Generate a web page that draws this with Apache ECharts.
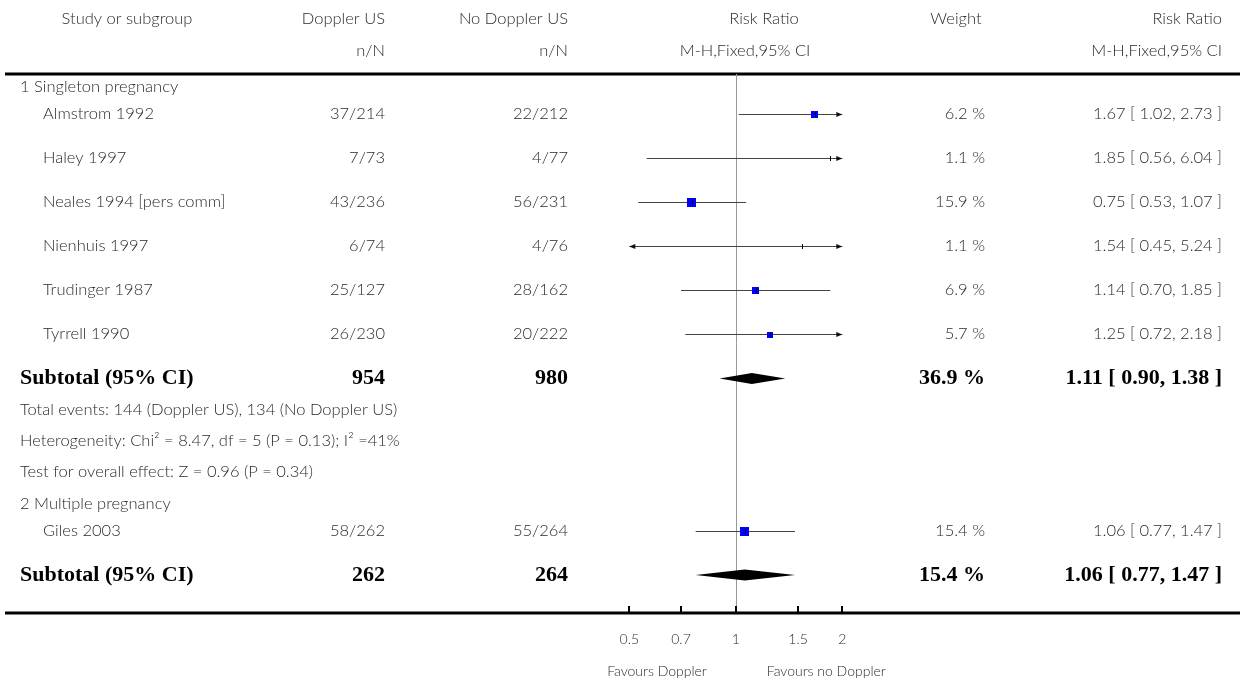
<!DOCTYPE html>
<html>
<head>
<meta charset="utf-8">
<script src="https://cdn.jsdelivr.net/npm/echarts@6.0.0/dist/echarts.min.js"></script>
<style>
html,body{margin:0;padding:0;background:#fff;}
#chart{width:1242px;height:680px;}
</style>
</head>
<body>
<div id="chart"></div>
<script>
// ---------------- DATA ----------------
const subgroupNames = ['1 Singleton pregnancy', '2 Multiple pregnancy'];
const studies = ['Almstrom 1992', 'Haley 1997', 'Neales 1994 [pers comm]', 'Nienhuis 1997', 'Trudinger 1987', 'Tyrrell 1990', 'Giles 2003'];
const studyGroup = [0, 0, 0, 0, 0, 0, 1];
const dopplerEvents = [37, 7, 43, 6, 25, 26, 58];
const dopplerTotal = [214, 73, 236, 74, 127, 230, 262];
const noDopplerEvents = [22, 4, 56, 4, 28, 20, 55];
const noDopplerTotal = [212, 77, 231, 76, 162, 222, 264];
const studyWeight = [6.2, 1.1, 15.9, 1.1, 6.9, 5.7, 15.4];
const studyRR = [1.67, 1.85, 0.75, 1.54, 1.14, 1.25, 1.06];
const studyLow = [1.02, 0.56, 0.53, 0.45, 0.70, 0.72, 0.77];
const studyHigh = [2.73, 6.04, 1.07, 5.24, 1.85, 2.18, 1.47];

const subDopplerTotal = [954, 262];
const subNoDopplerTotal = [980, 264];
const subWeight = [36.9, 15.4];
const subRR = [1.11, 1.06];
const subLow = [0.90, 0.77];
const subHigh = [1.38, 1.47];
const subNotes = [
  ['Total events: 144 (Doppler US), 134 (No Doppler US)',
   'Heterogeneity: Chi\u00B2 = 8.47, df = 5 (P = 0.13); I\u00B2 =41%',
   'Test for overall effect: Z = 0.96 (P = 0.34)'],
  []
];

const tickValues = [0.5, 0.7, 1, 1.5, 2];
const tickLabels = ['0.5', '0.7', '1', '1.5', '2'];
const axisMin = 0.5, axisMax = 2;
const favoursLeft = 'Favours Doppler';
const favoursRight = 'Favours no Doppler';

// ---------------- LAYOUT (styles / spacing) ----------------
const W = 1242, H = 680;
const headerLineY = 74, axisLineY = 613;
const plotLeft = 629.3, plotRight = 842.3;
const gap = {
  start: {group: 13},
  group: {study: 27},
  study: {study: 44, subtotal: 44.5},
  subtotal: {note: 31, group: 32, end: 38},
  note: {note: 31, group: 32, end: 38}
};
const col = {left: 20, study: 43, dop: 385, nodop: 568, weight: 985, rr: 1222};
const FONT = 'Lato, "Open Sans", sans-serif';
const SERIF = '"Liberation Serif", "DejaVu Serif", serif';
const TXT = '#2a2a2a';
const fsNormal = 16.5, fsBold = 22, fsAxis = 14;
const fwNormal = 300;

// build rows
const rows = [];
let yCur = 0, prev = 'start';
function addRow(r) { yCur += gap[prev][r.kind]; r.y = yCur; rows.push(r); prev = r.kind; }
for (let g = 0; g < subgroupNames.length; g++) {
  addRow({kind: 'group', g: g});
  for (let i = 0; i < studies.length; i++) if (studyGroup[i] === g) addRow({kind: 'study', i: i});
  addRow({kind: 'subtotal', g: g});
  subNotes[g].forEach(n => addRow({kind: 'note', text: n}));
}
yCur += gap[prev].end;
const yMax = yCur;

const fmt2 = v => v.toFixed(2);
const ciText = (r, l, h) => fmt2(r) + ' [ ' + fmt2(l) + ', ' + fmt2(h) + ' ]';

function txt(x, y, text, align, bold, size) {
  return {
    type: 'text', x: x, y: y,
    style: {
      text: text, fill: bold ? '#000' : TXT,
      fontSize: size || (bold ? fsBold : fsNormal),
      fontFamily: bold ? SERIF : FONT,
      fontWeight: bold ? 'bold' : fwNormal,
      align: align, verticalAlign: 'middle'
    }
  };
}

const headerTexts = [
  [127, 19, 'Study or subgroup', 'center'],
  [col.dop, 19, 'Doppler US', 'right'],
  [col.dop, 51, 'n/N', 'right'],
  [col.nodop, 19, 'No Doppler US', 'right'],
  [col.nodop, 51, 'n/N', 'right'],
  [764, 19, 'Risk Ratio', 'center'],
  [745, 51, 'M-H,Fixed,95% CI', 'center'],
  [956, 19, 'Weight', 'center'],
  [col.rr, 19, 'Risk Ratio', 'right'],
  [col.rr, 51, 'M-H,Fixed,95% CI', 'right']
];

const chart = echarts.init(document.getElementById('chart'), null, {renderer: 'canvas'});

const option = {
  animation: false,
  backgroundColor: '#fff',
  grid: {left: plotLeft, right: W - plotRight, top: headerLineY, bottom: H - axisLineY, containLabel: false},
  xAxis: {type: 'log', logBase: 10, min: axisMin, max: axisMax, show: false},
  yAxis: {type: 'value', min: 0, max: yMax, inverse: true, show: false},
  graphic: headerTexts.map(h => txt(h[0], h[1], h[2], h[3], false)).concat([
    {type: 'line', shape: {x1: 5, y1: headerLineY, x2: 1240, y2: headerLineY}, style: {stroke: '#000', lineWidth: 3}},
    {type: 'line', shape: {x1: 5, y1: axisLineY, x2: 1240, y2: axisLineY}, style: {stroke: '#000', lineWidth: 3}, z: 10}
  ]),
  series: [
    // reference line at 1
    {
      type: 'custom', silent: true, z: 1,
      data: [[1, 0, yMax]],
      renderItem: function (params, api) {
        const a = api.coord([api.value(0), api.value(1)]);
        const b = api.coord([api.value(0), api.value(2)]);
        const x = Math.round(a[0]) + 0.5;
        return {type: 'line', shape: {x1: x, y1: a[1], x2: x, y2: b[1]}, style: {stroke: '#999', lineWidth: 1}};
      }
    },
    // study CI lines + squares
    {
      type: 'custom', silent: true, z: 3,
      data: rows.filter(r => r.kind === 'study').map(r => [studyRR[r.i], studyLow[r.i], studyHigh[r.i], r.y, studyWeight[r.i]]),
      encode: {x: 0, y: 3},
      renderItem: function (params, api) {
        const est = api.value(0), lo = api.value(1), hi = api.value(2), ry = api.value(3), w = api.value(4);
        const p0 = api.coord([Math.max(lo, axisMin), ry]);
        const p1 = api.coord([Math.min(hi, axisMax), ry]);
        const pe = api.coord([est, ry]);
        const yy = Math.round(p0[1]) + 0.5;
        const ch = [{type: 'line', shape: {x1: p0[0], y1: yy, x2: p1[0], y2: yy}, style: {stroke: '#444', lineWidth: 1}}];
        if (hi > axisMax) ch.push({type: 'polygon', shape: {points: [[p1[0], yy], [p1[0] - 6, yy - 2.5], [p1[0] - 6, yy + 2.5]]}, style: {fill: '#111'}});
        if (lo < axisMin) ch.push({type: 'polygon', shape: {points: [[p0[0], yy], [p0[0] + 6, yy - 2.5], [p0[0] + 6, yy + 2.5]]}, style: {fill: '#111'}});
        if (w > 2) {
          const s = Math.round(1.43 * Math.sqrt(w) + 3);
          ch.push({type: 'rect', shape: {x: Math.round(pe[0] - s / 2), y: Math.round(yy - s / 2), width: s, height: s}, style: {fill: '#0000ff'}});
        }
        const xe = Math.round(pe[0]) + 0.5;
        ch.push({type: 'line', shape: {x1: xe, y1: yy - 2.5, x2: xe, y2: yy + 2.5}, style: {stroke: '#000', lineWidth: 1}});
        return {type: 'group', children: ch};
      }
    },
    // subtotal diamonds
    {
      type: 'custom', silent: true, z: 3,
      data: rows.filter(r => r.kind === 'subtotal').map(r => [subRR[r.g], subLow[r.g], subHigh[r.g], r.y]),
      encode: {x: 0, y: 3},
      renderItem: function (params, api) {
        const ry = api.value(3);
        const pl = api.coord([api.value(1), ry]);
        const pe = api.coord([api.value(0), ry]);
        const ph = api.coord([api.value(2), ry]);
        const hh = 5.5;
        return {type: 'polygon', shape: {points: [[pl[0], pl[1]], [pe[0], pe[1] - hh], [ph[0], ph[1]], [pe[0], pe[1] + hh]]}, style: {fill: '#000'}};
      }
    },
    // row texts
    {
      type: 'custom', silent: true, z: 5,
      data: rows.map(r => [1, r.y]),
      encode: {x: 0, y: 1},
      renderItem: function (params, api) {
        const r = rows[params.dataIndex];
        const y = api.coord([1, api.value(1)])[1];
        const ch = [];
        if (r.kind === 'group') {
          ch.push(txt(col.left, y, subgroupNames[r.g], 'left', false));
        } else if (r.kind === 'study') {
          const i = r.i;
          ch.push(txt(col.study, y, studies[i], 'left', false));
          ch.push(txt(col.dop, y, dopplerEvents[i] + '/' + dopplerTotal[i], 'right', false));
          ch.push(txt(col.nodop, y, noDopplerEvents[i] + '/' + noDopplerTotal[i], 'right', false));
          ch.push(txt(col.weight, y, studyWeight[i].toFixed(1) + ' %', 'right', false));
          ch.push(txt(col.rr, y, ciText(studyRR[i], studyLow[i], studyHigh[i]), 'right', false));
        } else if (r.kind === 'subtotal') {
          const g = r.g;
          ch.push(txt(col.left, y, 'Subtotal (95% CI)', 'left', true));
          ch.push(txt(col.dop, y, String(subDopplerTotal[g]), 'right', true));
          ch.push(txt(col.nodop, y, String(subNoDopplerTotal[g]), 'right', true));
          ch.push(txt(col.weight, y, subWeight[g].toFixed(1) + ' %', 'right', true));
          ch.push(txt(col.rr, y, ciText(subRR[g], subLow[g], subHigh[g]), 'right', true));
        } else if (r.kind === 'note') {
          ch.push(txt(col.left, y, r.text, 'left', false));
        }
        return {type: 'group', children: ch};
      }
    },
    // axis ticks + labels
    {
      type: 'custom', silent: true, z: 6,
      data: tickValues.map(v => [v, yMax]),
      encode: {x: 0, y: 1},
      renderItem: function (params, api) {
        const p = api.coord([api.value(0), api.value(1)]);
        const x = Math.round(p[0]);
        return {type: 'group', children: [
          {type: 'rect', shape: {x: x - 1, y: p[1] - 7, width: 2, height: 7}, style: {fill: '#000'}},
          txt(p[0], p[1] + 26, tickLabels[params.dataIndex], 'center', false, fsAxis)
        ]};
      }
    },
    // favours labels
    {
      type: 'custom', silent: true, z: 6,
      data: [[1, yMax]],
      encode: {x: 0, y: 1},
      renderItem: function (params, api) {
        const p = api.coord([api.value(0), api.value(1)]);
        return {type: 'group', children: [
          txt(p[0] - 29, p[1] + 58, favoursLeft, 'right', false, fsAxis),
          txt(p[0] + 31, p[1] + 58, favoursRight, 'left', false, fsAxis)
        ]};
      }
    }
  ]
};
chart.setOption(option);
</script>
</body>
</html>
